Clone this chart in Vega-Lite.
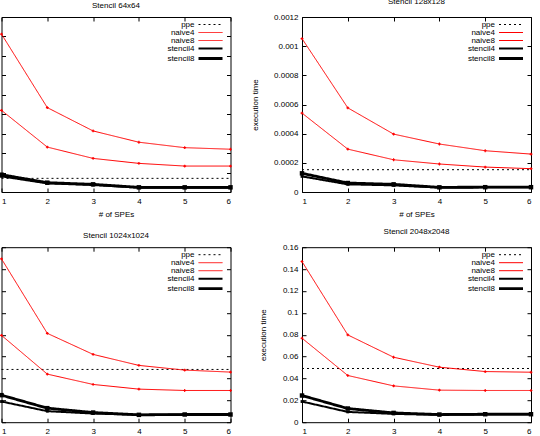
{
  "$schema": "https://vega.github.io/schema/vega-lite/v6.json",
  "padding": {"left": -4.5, "top": -2, "right": 0, "bottom": 0},
  "background": "white",
  "data": {"values": [
    {"panel": "64", "series": "ppe", "spes": 1, "time": 0.0000351},
    {"panel": "64", "series": "ppe", "spes": 2, "time": 0.0000351},
    {"panel": "64", "series": "ppe", "spes": 3, "time": 0.0000351},
    {"panel": "64", "series": "ppe", "spes": 4, "time": 0.0000351},
    {"panel": "64", "series": "ppe", "spes": 5, "time": 0.0000351},
    {"panel": "64", "series": "ppe", "spes": 6, "time": 0.0000351},
    {"panel": "64", "series": "naive4", "spes": 1, "time": 0.000406},
    {"panel": "64", "series": "naive4", "spes": 2, "time": 0.000217},
    {"panel": "64", "series": "naive4", "spes": 3, "time": 0.000157},
    {"panel": "64", "series": "naive4", "spes": 4, "time": 0.000128},
    {"panel": "64", "series": "naive4", "spes": 5, "time": 0.000114},
    {"panel": "64", "series": "naive4", "spes": 6, "time": 0.000110},
    {"panel": "64", "series": "naive8", "spes": 1, "time": 0.000210},
    {"panel": "64", "series": "naive8", "spes": 2, "time": 0.0001155},
    {"panel": "64", "series": "naive8", "spes": 3, "time": 0.0000864},
    {"panel": "64", "series": "naive8", "spes": 4, "time": 0.0000736},
    {"panel": "64", "series": "naive8", "spes": 5, "time": 0.0000667},
    {"panel": "64", "series": "naive8", "spes": 6, "time": 0.0000667},
    {"panel": "64", "series": "stencil4", "spes": 1, "time": 0.0000402},
    {"panel": "64", "series": "stencil4", "spes": 2, "time": 0.0000222},
    {"panel": "64", "series": "stencil4", "spes": 3, "time": 0.0000180},
    {"panel": "64", "series": "stencil4", "spes": 4, "time": 0.0000111},
    {"panel": "64", "series": "stencil4", "spes": 5, "time": 0.0000111},
    {"panel": "64", "series": "stencil4", "spes": 6, "time": 0.0000111},
    {"panel": "64", "series": "stencil8", "spes": 1, "time": 0.0000445},
    {"panel": "64", "series": "stencil8", "spes": 2, "time": 0.0000240},
    {"panel": "64", "series": "stencil8", "spes": 3, "time": 0.0000197},
    {"panel": "64", "series": "stencil8", "spes": 4, "time": 0.0000120},
    {"panel": "64", "series": "stencil8", "spes": 5, "time": 0.0000120},
    {"panel": "64", "series": "stencil8", "spes": 6, "time": 0.0000120},

    {"panel": "128", "series": "ppe", "spes": 1, "time": 0.000153},
    {"panel": "128", "series": "ppe", "spes": 2, "time": 0.000153},
    {"panel": "128", "series": "ppe", "spes": 3, "time": 0.000153},
    {"panel": "128", "series": "ppe", "spes": 4, "time": 0.000153},
    {"panel": "128", "series": "ppe", "spes": 5, "time": 0.000153},
    {"panel": "128", "series": "ppe", "spes": 6, "time": 0.000153},
    {"panel": "128", "series": "naive4", "spes": 1, "time": 0.001052},
    {"panel": "128", "series": "naive4", "spes": 2, "time": 0.000577},
    {"panel": "128", "series": "naive4", "spes": 3, "time": 0.000397},
    {"panel": "128", "series": "naive4", "spes": 4, "time": 0.000329},
    {"panel": "128", "series": "naive4", "spes": 5, "time": 0.000283},
    {"panel": "128", "series": "naive4", "spes": 6, "time": 0.000260},
    {"panel": "128", "series": "naive8", "spes": 1, "time": 0.000541},
    {"panel": "128", "series": "naive8", "spes": 2, "time": 0.000294},
    {"panel": "128", "series": "naive8", "spes": 3, "time": 0.000221},
    {"panel": "128", "series": "naive8", "spes": 4, "time": 0.000192},
    {"panel": "128", "series": "naive8", "spes": 5, "time": 0.000171},
    {"panel": "128", "series": "naive8", "spes": 6, "time": 0.000160},
    {"panel": "128", "series": "stencil4", "spes": 1, "time": 0.000107},
    {"panel": "128", "series": "stencil4", "spes": 2, "time": 0.0000525},
    {"panel": "128", "series": "stencil4", "spes": 3, "time": 0.0000456},
    {"panel": "128", "series": "stencil4", "spes": 4, "time": 0.0000300},
    {"panel": "128", "series": "stencil4", "spes": 5, "time": 0.0000320},
    {"panel": "128", "series": "stencil4", "spes": 6, "time": 0.0000320},
    {"panel": "128", "series": "stencil8", "spes": 1, "time": 0.000128},
    {"panel": "128", "series": "stencil8", "spes": 2, "time": 0.0000616},
    {"panel": "128", "series": "stencil8", "spes": 3, "time": 0.0000525},
    {"panel": "128", "series": "stencil8", "spes": 4, "time": 0.0000320},
    {"panel": "128", "series": "stencil8", "spes": 5, "time": 0.0000330},
    {"panel": "128", "series": "stencil8", "spes": 6, "time": 0.0000330},

    {"panel": "1024", "series": "ppe", "spes": 1, "time": 0.01206},
    {"panel": "1024", "series": "ppe", "spes": 2, "time": 0.01206},
    {"panel": "1024", "series": "ppe", "spes": 3, "time": 0.01206},
    {"panel": "1024", "series": "ppe", "spes": 4, "time": 0.01206},
    {"panel": "1024", "series": "ppe", "spes": 5, "time": 0.01206},
    {"panel": "1024", "series": "ppe", "spes": 6, "time": 0.01206},
    {"panel": "1024", "series": "naive4", "spes": 1, "time": 0.03733},
    {"panel": "1024", "series": "naive4", "spes": 2, "time": 0.02031},
    {"panel": "1024", "series": "naive4", "spes": 3, "time": 0.01550},
    {"panel": "1024", "series": "naive4", "spes": 4, "time": 0.01298},
    {"panel": "1024", "series": "naive4", "spes": 5, "time": 0.01191},
    {"panel": "1024", "series": "naive4", "spes": 6, "time": 0.01145},
    {"panel": "1024", "series": "naive8", "spes": 1, "time": 0.01985},
    {"panel": "1024", "series": "naive8", "spes": 2, "time": 0.01099},
    {"panel": "1024", "series": "naive8", "spes": 3, "time": 0.00863},
    {"panel": "1024", "series": "naive8", "spes": 4, "time": 0.00756},
    {"panel": "1024", "series": "naive8", "spes": 5, "time": 0.00725},
    {"panel": "1024", "series": "naive8", "spes": 6, "time": 0.00725},
    {"panel": "1024", "series": "stencil4", "spes": 1, "time": 0.00473},
    {"panel": "1024", "series": "stencil4", "spes": 2, "time": 0.00252},
    {"panel": "1024", "series": "stencil4", "spes": 3, "time": 0.00198},
    {"panel": "1024", "series": "stencil4", "spes": 4, "time": 0.00168},
    {"panel": "1024", "series": "stencil4", "spes": 5, "time": 0.00176},
    {"panel": "1024", "series": "stencil4", "spes": 6, "time": 0.00176},
    {"panel": "1024", "series": "stencil8", "spes": 1, "time": 0.00618},
    {"panel": "1024", "series": "stencil8", "spes": 2, "time": 0.00321},
    {"panel": "1024", "series": "stencil8", "spes": 3, "time": 0.00221},
    {"panel": "1024", "series": "stencil8", "spes": 4, "time": 0.00168},
    {"panel": "1024", "series": "stencil8", "spes": 5, "time": 0.00176},
    {"panel": "1024", "series": "stencil8", "spes": 6, "time": 0.00176},

    {"panel": "2048", "series": "ppe", "spes": 1, "time": 0.0491},
    {"panel": "2048", "series": "ppe", "spes": 2, "time": 0.0491},
    {"panel": "2048", "series": "ppe", "spes": 3, "time": 0.0491},
    {"panel": "2048", "series": "ppe", "spes": 4, "time": 0.0491},
    {"panel": "2048", "series": "ppe", "spes": 5, "time": 0.0491},
    {"panel": "2048", "series": "ppe", "spes": 6, "time": 0.0491},
    {"panel": "2048", "series": "naive4", "spes": 1, "time": 0.1469},
    {"panel": "2048", "series": "naive4", "spes": 2, "time": 0.0798},
    {"panel": "2048", "series": "naive4", "spes": 3, "time": 0.0594},
    {"panel": "2048", "series": "naive4", "spes": 4, "time": 0.0503},
    {"panel": "2048", "series": "naive4", "spes": 5, "time": 0.0463},
    {"panel": "2048", "series": "naive4", "spes": 6, "time": 0.0457},
    {"panel": "2048", "series": "naive8", "spes": 1, "time": 0.0768},
    {"panel": "2048", "series": "naive8", "spes": 2, "time": 0.0427},
    {"panel": "2048", "series": "naive8", "spes": 3, "time": 0.0332},
    {"panel": "2048", "series": "naive8", "spes": 4, "time": 0.0293},
    {"panel": "2048", "series": "naive8", "spes": 5, "time": 0.0290},
    {"panel": "2048", "series": "naive8", "spes": 6, "time": 0.0290},
    {"panel": "2048", "series": "stencil4", "spes": 1, "time": 0.0189},
    {"panel": "2048", "series": "stencil4", "spes": 2, "time": 0.0094},
    {"panel": "2048", "series": "stencil4", "spes": 3, "time": 0.0076},
    {"panel": "2048", "series": "stencil4", "spes": 4, "time": 0.0067},
    {"panel": "2048", "series": "stencil4", "spes": 5, "time": 0.0070},
    {"panel": "2048", "series": "stencil4", "spes": 6, "time": 0.0070},
    {"panel": "2048", "series": "stencil8", "spes": 1, "time": 0.0244},
    {"panel": "2048", "series": "stencil8", "spes": 2, "time": 0.0125},
    {"panel": "2048", "series": "stencil8", "spes": 3, "time": 0.0085},
    {"panel": "2048", "series": "stencil8", "spes": 4, "time": 0.0070},
    {"panel": "2048", "series": "stencil8", "spes": 5, "time": 0.0073},
    {"panel": "2048", "series": "stencil8", "spes": 6, "time": 0.0073}
  ]},
  "resolve": {
    "scale": {"x": "independent", "y": "independent"},
    "legend": {"color": "independent", "strokeDash": "independent", "strokeWidth": "independent"}
  },
  "bounds": "flush",
  "columns": 2,
  "spacing": {"row": 55.2, "column": 71.5},
  "concat": [
    {
      "width": 229, "height": 175,
      "title": "Stencil 64x64",
      "transform": [{"filter": "datum.panel === '64'"}],
      "resolve": {"axis": {"x": "independent", "y": "independent"}},
      "layer": [
        {
          "mark": {"type": "line"},
          "encoding": {
            "x": {"field": "spes", "type": "quantitative", "scale": {"domain": [1, 6], "nice": false, "zero": false}, "axis": {"values": [1, 2, 3, 4, 5, 6], "format": "d", "title": "# of SPEs"}},
            "y": {"field": "time", "type": "quantitative", "scale": {"domain": [0, 0.00045], "nice": false}, "axis": {"values": [0, 0.00005, 0.0001, 0.00015, 0.0002, 0.00025, 0.0003, 0.00035, 0.0004, 0.00045], "labels": false, "title": null}},
            "color": {"field": "series", "type": "nominal", "scale": {"domain": ["ppe", "naive4", "naive8", "stencil4", "stencil8"], "range": ["#000000", "#ff0000", "#ff0000", "#000000", "#000000"]}},
            "strokeDash": {"field": "series", "type": "nominal", "scale": {"domain": ["ppe", "naive4", "naive8", "stencil4", "stencil8"], "range": [[2, 3], [1, 0], [1, 0], [1, 0], [1, 0]]}},
            "strokeWidth": {"field": "series", "type": "nominal", "scale": {"type": "ordinal", "domain": ["ppe", "naive4", "naive8", "stencil4", "stencil8"], "range": [1, 1, 1, 2, 2.8]}}
          }
        },
        {
          "transform": [{"filter": "datum.series === 'naive4' || datum.series === 'naive8'"}],
          "mark": {"type": "point", "filled": true, "opacity": 1, "color": "#ff0000", "shape": "cross", "size": 8},
          "encoding": {
            "x": {"field": "spes", "type": "quantitative", "axis": {"orient": "top", "values": [1, 2, 3, 4, 5, 6], "labels": false, "title": null}},
            "y": {"field": "time", "type": "quantitative", "axis": {"orient": "right", "values": [0, 0.00005, 0.0001, 0.00015, 0.0002, 0.00025, 0.0003, 0.00035, 0.0004, 0.00045], "labels": false, "title": null}}
          }
        },
        {
          "transform": [{"filter": "datum.series === 'stencil4' || datum.series === 'stencil8'"}],
          "mark": {"type": "point", "filled": true, "opacity": 1, "color": "#000000", "shape": "square"},
          "encoding": {
            "x": {"field": "spes", "type": "quantitative", "axis": null},
            "y": {"field": "time", "type": "quantitative", "axis": null},
            "size": {"field": "series", "type": "nominal", "scale": {"type": "ordinal", "domain": ["stencil4", "stencil8"], "range": [8, 20]}, "legend": null}
          }
        }
      ]
    },
    {
      "width": 229, "height": 175,
      "title": "Stencil 128x128",
      "transform": [{"filter": "datum.panel === '128'"}],
      "resolve": {"axis": {"x": "independent", "y": "independent"}},
      "layer": [
        {
          "mark": {"type": "line"},
          "encoding": {
            "x": {"field": "spes", "type": "quantitative", "scale": {"domain": [1, 6], "nice": false, "zero": false}, "axis": {"values": [1, 2, 3, 4, 5, 6], "format": "d", "title": "# of SPEs"}},
            "y": {"field": "time", "type": "quantitative", "scale": {"domain": [0, 0.0012], "nice": false}, "axis": {"values": [0, 0.0002, 0.0004, 0.0006, 0.0008, 0.001, 0.0012], "labelExpr": "format(datum.value, '.6~g')", "title": "execution time"}},
            "color": {"field": "series", "type": "nominal", "scale": {"domain": ["ppe", "naive4", "naive8", "stencil4", "stencil8"], "range": ["#000000", "#ff0000", "#ff0000", "#000000", "#000000"]}},
            "strokeDash": {"field": "series", "type": "nominal", "scale": {"domain": ["ppe", "naive4", "naive8", "stencil4", "stencil8"], "range": [[2, 3], [1, 0], [1, 0], [1, 0], [1, 0]]}},
            "strokeWidth": {"field": "series", "type": "nominal", "scale": {"type": "ordinal", "domain": ["ppe", "naive4", "naive8", "stencil4", "stencil8"], "range": [1, 1, 1, 2, 2.8]}}
          }
        },
        {
          "transform": [{"filter": "datum.series === 'naive4' || datum.series === 'naive8'"}],
          "mark": {"type": "point", "filled": true, "opacity": 1, "color": "#ff0000", "shape": "cross", "size": 8},
          "encoding": {
            "x": {"field": "spes", "type": "quantitative", "axis": {"orient": "top", "values": [1, 2, 3, 4, 5, 6], "labels": false, "title": null}},
            "y": {"field": "time", "type": "quantitative", "axis": {"orient": "right", "values": [0, 0.0002, 0.0004, 0.0006, 0.0008, 0.001, 0.0012], "labels": false, "title": null}}
          }
        },
        {
          "transform": [{"filter": "datum.series === 'stencil4' || datum.series === 'stencil8'"}],
          "mark": {"type": "point", "filled": true, "opacity": 1, "color": "#000000", "shape": "square"},
          "encoding": {
            "x": {"field": "spes", "type": "quantitative", "axis": null},
            "y": {"field": "time", "type": "quantitative", "axis": null},
            "size": {"field": "series", "type": "nominal", "scale": {"type": "ordinal", "domain": ["stencil4", "stencil8"], "range": [8, 20]}, "legend": null}
          }
        }
      ]
    },
    {
      "width": 229, "height": 175,
      "title": "Stencil 1024x1024",
      "transform": [{"filter": "datum.panel === '1024'"}],
      "resolve": {"axis": {"x": "independent", "y": "independent"}},
      "layer": [
        {
          "mark": {"type": "line"},
          "encoding": {
            "x": {"field": "spes", "type": "quantitative", "scale": {"domain": [1, 6], "nice": false, "zero": false}, "axis": {"values": [1, 2, 3, 4, 5, 6], "format": "d", "title": "# of SPEs"}},
            "y": {"field": "time", "type": "quantitative", "scale": {"domain": [0, 0.04], "nice": false}, "axis": {"values": [0, 0.005, 0.01, 0.015, 0.02, 0.025, 0.03, 0.035, 0.04], "labels": false, "title": null}},
            "color": {"field": "series", "type": "nominal", "scale": {"domain": ["ppe", "naive4", "naive8", "stencil4", "stencil8"], "range": ["#000000", "#ff0000", "#ff0000", "#000000", "#000000"]}},
            "strokeDash": {"field": "series", "type": "nominal", "scale": {"domain": ["ppe", "naive4", "naive8", "stencil4", "stencil8"], "range": [[2, 3], [1, 0], [1, 0], [1, 0], [1, 0]]}},
            "strokeWidth": {"field": "series", "type": "nominal", "scale": {"type": "ordinal", "domain": ["ppe", "naive4", "naive8", "stencil4", "stencil8"], "range": [1, 1, 1, 2, 2.8]}}
          }
        },
        {
          "transform": [{"filter": "datum.series === 'naive4' || datum.series === 'naive8'"}],
          "mark": {"type": "point", "filled": true, "opacity": 1, "color": "#ff0000", "shape": "cross", "size": 8},
          "encoding": {
            "x": {"field": "spes", "type": "quantitative", "axis": {"orient": "top", "values": [1, 2, 3, 4, 5, 6], "labels": false, "title": null}},
            "y": {"field": "time", "type": "quantitative", "axis": {"orient": "right", "values": [0, 0.005, 0.01, 0.015, 0.02, 0.025, 0.03, 0.035, 0.04], "labels": false, "title": null}}
          }
        },
        {
          "transform": [{"filter": "datum.series === 'stencil4' || datum.series === 'stencil8'"}],
          "mark": {"type": "point", "filled": true, "opacity": 1, "color": "#000000", "shape": "square"},
          "encoding": {
            "x": {"field": "spes", "type": "quantitative", "axis": null},
            "y": {"field": "time", "type": "quantitative", "axis": null},
            "size": {"field": "series", "type": "nominal", "scale": {"type": "ordinal", "domain": ["stencil4", "stencil8"], "range": [8, 20]}, "legend": null}
          }
        }
      ]
    },
    {
      "width": 229, "height": 175,
      "title": "Stencil 2048x2048",
      "transform": [{"filter": "datum.panel === '2048'"}],
      "resolve": {"axis": {"x": "independent", "y": "independent"}},
      "layer": [
        {
          "mark": {"type": "line"},
          "encoding": {
            "x": {"field": "spes", "type": "quantitative", "scale": {"domain": [1, 6], "nice": false, "zero": false}, "axis": {"values": [1, 2, 3, 4, 5, 6], "format": "d", "title": "# of SPEs"}},
            "y": {"field": "time", "type": "quantitative", "scale": {"domain": [0, 0.16], "nice": false}, "axis": {"values": [0, 0.02, 0.04, 0.06, 0.08, 0.1, 0.12, 0.14, 0.16], "labelExpr": "format(datum.value, '.6~g')", "title": "execution time"}},
            "color": {"field": "series", "type": "nominal", "scale": {"domain": ["ppe", "naive4", "naive8", "stencil4", "stencil8"], "range": ["#000000", "#ff0000", "#ff0000", "#000000", "#000000"]}},
            "strokeDash": {"field": "series", "type": "nominal", "scale": {"domain": ["ppe", "naive4", "naive8", "stencil4", "stencil8"], "range": [[2, 3], [1, 0], [1, 0], [1, 0], [1, 0]]}},
            "strokeWidth": {"field": "series", "type": "nominal", "scale": {"type": "ordinal", "domain": ["ppe", "naive4", "naive8", "stencil4", "stencil8"], "range": [1, 1, 1, 2, 2.8]}}
          }
        },
        {
          "transform": [{"filter": "datum.series === 'naive4' || datum.series === 'naive8'"}],
          "mark": {"type": "point", "filled": true, "opacity": 1, "color": "#ff0000", "shape": "cross", "size": 8},
          "encoding": {
            "x": {"field": "spes", "type": "quantitative", "axis": {"orient": "top", "values": [1, 2, 3, 4, 5, 6], "labels": false, "title": null}},
            "y": {"field": "time", "type": "quantitative", "axis": {"orient": "right", "values": [0, 0.02, 0.04, 0.06, 0.08, 0.1, 0.12, 0.14, 0.16], "labels": false, "title": null}}
          }
        },
        {
          "transform": [{"filter": "datum.series === 'stencil4' || datum.series === 'stencil8'"}],
          "mark": {"type": "point", "filled": true, "opacity": 1, "color": "#000000", "shape": "square"},
          "encoding": {
            "x": {"field": "spes", "type": "quantitative", "axis": null},
            "y": {"field": "time", "type": "quantitative", "axis": null},
            "size": {"field": "series", "type": "nominal", "scale": {"type": "ordinal", "domain": ["stencil4", "stencil8"], "range": [8, 20]}, "legend": null}
          }
        }
      ]
    }
  ],
  "config": {
    "font": "Liberation Sans",
    "view": {"stroke": null},
    "axis": {
      "grid": false,
      "domainColor": "#000000",
      "domainWidth": 1,
      "tickColor": "#000000",
      "tickSize": -4,
      "labelPadding": 9.5,
      "labelColor": "#000000",
      "labelFontSize": 8,
      "labelFont": "Liberation Sans",
      "titleColor": "#000000",
      "titleFontSize": 8,
      "titleFont": "Liberation Sans",
      "titleFontWeight": "normal",
      "titlePadding": 5
    },
    "axisY": {"titlePadding": 14.5, "labelPadding": 8},
    "title": {"fontSize": 8, "fontWeight": "normal", "font": "Liberation Sans", "color": "#000000", "offset": 7},
    "legend": {
      "orient": "none",
      "legendX": 205,
      "legendY": 3.5,
      "title": null,
      "padding": 0,
      "rowPadding": 0,
      "labelFontSize": 8,
      "labelFont": "Liberation Sans",
      "labelColor": "#000000",
      "labelAlign": "right",
      "labelOffset": -20,
      "symbolType": "M-4.8,0H4.8",
      "symbolSize": 25
    }
  }
}
